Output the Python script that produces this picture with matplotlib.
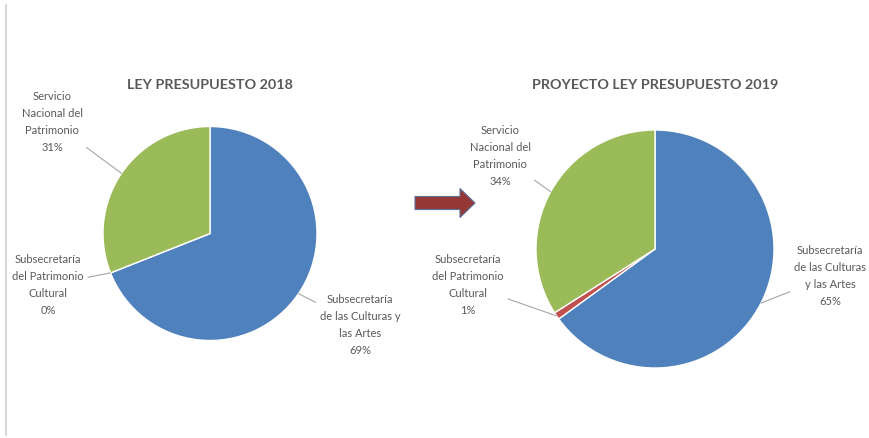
import numpy as np
import matplotlib.pyplot as plt
from matplotlib.patches import FancyArrow

plt.rcParams['font.family'] = ['Lato', 'DejaVu Sans']

# data
colors = ['#4f81bd', '#c0504d', '#9bbb59']

title_2018 = "LEY PRESUPUESTO 2018"
labels_2018 = ["Subsecretaría\nde las Culturas y\nlas Artes",
               "Subsecretaría\ndel Patrimonio\nCultural",
               "Servicio\nNacional del\nPatrimonio"]
values_2018 = [69, 0, 31]

title_2019 = "PROYECTO LEY PRESUPUESTO 2019"
labels_2019 = ["Subsecretaría\nde las Culturas\ny las Artes",
               "Subsecretaría\ndel Patrimonio\nCultural",
               "Servicio\nNacional del\nPatrimonio"]
values_2019 = [65, 1, 34]

W, H = 869, 438
fig = plt.figure(figsize=(W / 100, H / 100), dpi=100)
ax = fig.add_axes([0, 0, 1, 1])

text_col = '#595959'


def draw_pie(values, labels, title, cx, cy, r, label_pos, title_y):
    wedges, _ = ax.pie(values, colors=colors, startangle=90, counterclock=False,
                       center=(cx, cy), radius=r,
                       wedgeprops=dict(edgecolor='white', linewidth=1.0))
    for w, v, lab, (tx, ty) in zip(wedges, values, labels, label_pos):
        mid = np.deg2rad((w.theta1 + w.theta2) / 2)
        xy = (cx + r * np.cos(mid), cy + r * np.sin(mid))
        ax.annotate(f"{lab}\n{v:.0f}%", xy=xy, xytext=(tx, ty),
                    ha='center', va='center', fontsize=8, color=text_col,
                    linespacing=1.65,
                    arrowprops=dict(arrowstyle='-', color='#a6a6a6', lw=0.8,
                                    shrinkA=1, shrinkB=0))
    ax.text(cx, title_y, title, ha='center', va='center', fontsize=10.4,
            fontweight='bold', color=text_col)


draw_pie(values_2018, labels_2018, title_2018, 210, 204.5, 107,
         [(360, 113), (48, 153), (52, 316)], 353)
draw_pie(values_2019, labels_2019, title_2019, 655, 189, 119,
         [(830, 162), (468, 153), (500, 282)], 353)

# arrow between the charts
ax.add_patch(FancyArrow(415, 235, 60, 0, width=13, head_width=29, head_length=15,
                        length_includes_head=True, fc='#953735', ec='#5a6f9a', lw=0.8))
# thin frame line at the left edge
ax.plot([6, 6], [3, 433], color='#d9d9d9', lw=1.5)

ax.set_xlim(0, W)
ax.set_ylim(0, H)
ax.set_aspect('auto')
ax.axis('off')

fig.savefig('out.png', dpi=100)
